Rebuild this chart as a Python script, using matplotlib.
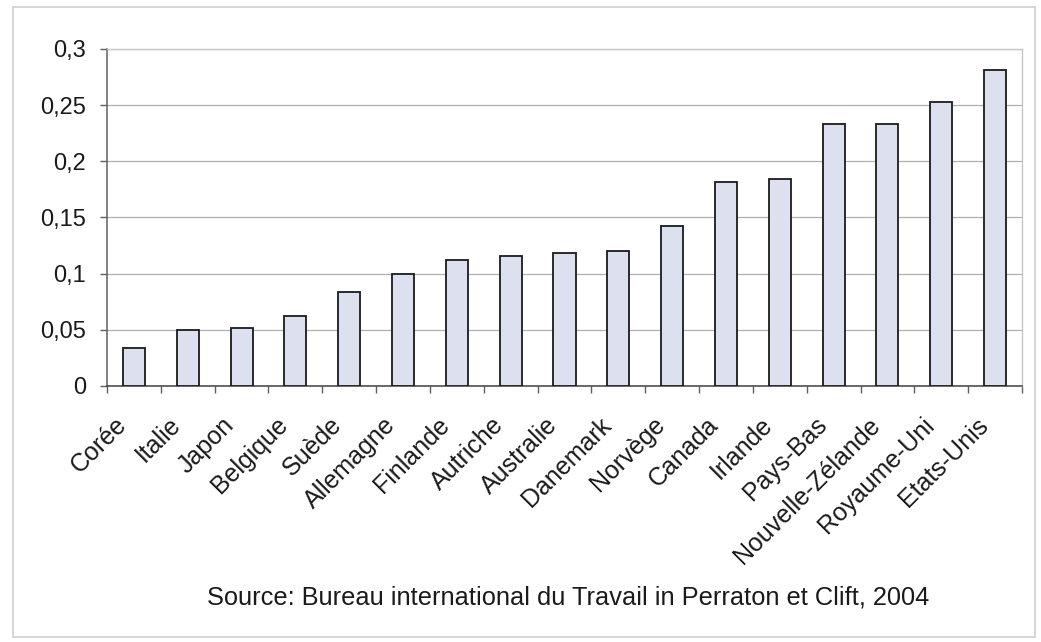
import matplotlib.pyplot as plt
from matplotlib.patches import Rectangle
from matplotlib.ticker import FixedLocator, FuncFormatter
from matplotlib.transforms import ScaledTranslation

# Part des bas salaires par pays
pays = ["Corée", "Italie", "Japon", "Belgique", "Suède", "Allemagne", "Finlande",
        "Autriche", "Australie", "Danemark", "Norvège", "Canada", "Irlande",
        "Pays-Bas", "Nouvelle-Zélande", "Royaume-Uni", "Etats-Unis"]
valeurs = [0.034, 0.050, 0.052, 0.062, 0.084, 0.100, 0.112, 0.116, 0.118, 0.120,
           0.142, 0.182, 0.184, 0.233, 0.233, 0.253, 0.281]
graduations = [0, 0.05, 0.1, 0.15, 0.2, 0.25, 0.3]

plt.rcParams['font.family'] = ['Liberation Sans', 'DejaVu Sans']

fig = plt.figure(figsize=(10.41, 6.42), dpi=100)
fig.patch.set_facecolor('white')

# cadre gris autour du graphique
fig.patches.append(Rectangle((13 / 1041, 1 - 637 / 642), 1022 / 1041, 630 / 642,
                             transform=fig.transFigure, fill=False,
                             edgecolor='#d0d0d0', linewidth=1.2))

ax = fig.add_axes([107 / 1041, 1 - 386 / 642, 915 / 1041, 337 / 642])

x = list(range(len(pays)))
ax.bar(x, valeurs, width=0.41, color='#dde1ef', edgecolor='#1a1a1a',
       linewidth=1.3, zorder=3)

ax.set_xlim(-0.5, len(pays) - 0.5)
ax.set_ylim(0, 0.3)

ax.yaxis.set_major_locator(FixedLocator(graduations))
ax.yaxis.set_major_formatter(FuncFormatter(lambda v, p: ('%g' % v).replace('.', ',')))
ax.grid(axis='y', color='#b0b0b0', linewidth=0.9, zorder=0)
ax.tick_params(axis='y', direction='out', length=5, width=1, color='#606060',
               pad=10, labelsize=17, labelcolor='#1a1a1a')

# libellés au centre des barres, graduations entre les barres
ax.set_xticks(x)
ax.set_xticks([i - 0.5 for i in range(len(pays) + 1)], minor=True)
ax.set_xticklabels(pays, rotation=45, ha='right', va='baseline',
                   rotation_mode='anchor', fontsize=18, color='#1a1a1a')
ax.tick_params(axis='x', which='major', length=0, pad=29)
ax.tick_params(axis='x', which='minor', direction='out', length=5, width=1,
               color='#606060')
decalage = ScaledTranslation(-6 / 100, 0, fig.dpi_scale_trans)
for lbl in ax.get_xticklabels():
    lbl.set_transform(lbl.get_transform() + decalage)

for side in ['top', 'right']:
    ax.spines[side].set_color('#c8c8c8')
    ax.spines[side].set_linewidth(1)
ax.spines['left'].set_color('#606060')
ax.spines['bottom'].set_color('#404040')
ax.spines['left'].set_linewidth(1.1)
ax.spines['bottom'].set_linewidth(1.1)

fig.text(568 / 1041, 1 - 597 / 642,
         "Source: Bureau international du Travail in Perraton et Clift, 2004",
         ha='center', va='center', fontsize=18.3, color='#1a1a1a')

fig.savefig('out.png', dpi=100)
